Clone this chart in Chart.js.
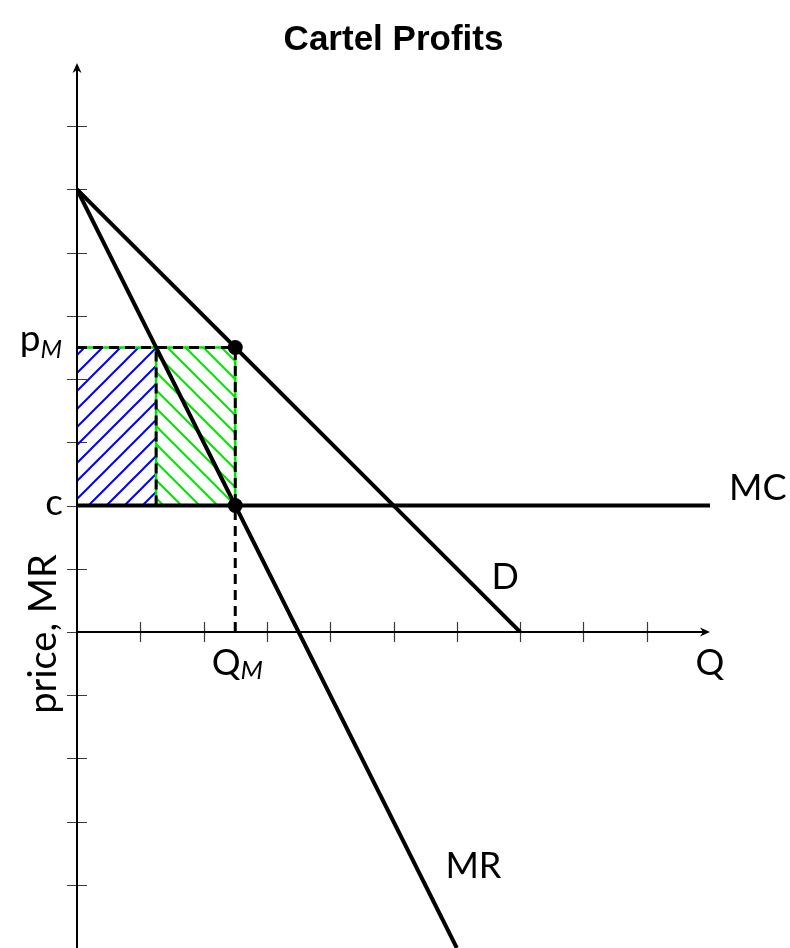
<!DOCTYPE html>
<html>
<head>
<meta charset="utf-8">
<script src="https://cdn.jsdelivr.net/npm/chart.js@4.4.0/dist/chart.umd.min.js"></script>
<style>
  body { margin: 0; background: #fff; }
  canvas { display: block; }
</style>
</head>
<body>
<canvas id="cartel-chart" width="790" height="948"></canvas>
<script>
// demand p = 7 - Q, marginal revenue MR = 7 - 2Q, marginal cost c = 2
const demandQ = [0, 7];
const demandP = [7, 0];
const mrQ = [0, 6];
const mrP = [7, -5];
const mcQ = [0, 10];
const mcP = [2, 2];
const qM = 2.5;
const pM = 4.5;
const cost = 2;
const qSplit = 1.25;   // MR crosses p_M here
const qTicks = [1, 2, 3, 4, 5, 6, 7, 8, 9];
const pTicks = [-4, -3, -2, -1, 0, 1, 2, 3, 4, 5, 6, 7, 8];
const qRange = [0, 10];
const pRange = [-5, 9];

const LABEL_FONT = "Lato, 'Open Sans', sans-serif";

function pts(xs, ys) {
  return xs.map((x, i) => ({ x: x, y: ys[i] }));
}

const canvas = document.getElementById('cartel-chart');
const mainCtx = canvas.getContext('2d');

function hatch(color, dir) {
  const s = 18;
  const tile = document.createElement('canvas');
  tile.width = s; tile.height = s;
  const g = tile.getContext('2d');
  g.strokeStyle = color;
  g.lineWidth = 2;
  g.beginPath();
  if (dir > 0) {
    g.moveTo(-2, s + 2); g.lineTo(s + 2, -2);
    g.moveTo(-2, 2); g.lineTo(2, -2);
    g.moveTo(s - 2, s + 2); g.lineTo(s + 2, s - 2);
  } else {
    g.moveTo(-2, -2); g.lineTo(s + 2, s + 2);
    g.moveTo(s - 2, -2); g.lineTo(s + 2, 2);
    g.moveTo(-2, s - 2); g.lineTo(2, s + 2);
  }
  g.stroke();
  return mainCtx.createPattern(tile, 'repeat');
}

function line(data, color, width, order, dash) {
  return {
    data: data,
    borderColor: color,
    borderWidth: width,
    borderDash: dash || [],
    pointRadius: 0,
    fill: false,
    order: order
  };
}

// axes, ticks, arrow heads and labels
const axesPlugin = {
  id: 'axes',
  beforeDatasetsDraw(chart) {
    const ctx = chart.ctx, x = chart.scales.x, y = chart.scales.y;
    const x0 = x.getPixelForValue(0), y0 = y.getPixelForValue(0);
    ctx.save();
    ctx.strokeStyle = '#3a3a3a';
    ctx.lineWidth = 1.2;
    ctx.beginPath();
    qTicks.forEach(q => {
      const px = Math.round(x.getPixelForValue(q)) + 0.5;
      ctx.moveTo(px, y0 - 10); ctx.lineTo(px, y0 + 10);
    });
    pTicks.forEach(p => {
      const py = Math.round(y.getPixelForValue(p)) + 0.5;
      ctx.moveTo(x0 - 10, py); ctx.lineTo(x0 + 10, py);
    });
    ctx.stroke();
    ctx.restore();
  },
  afterDatasetsDraw(chart) {
    const ctx = chart.ctx, x = chart.scales.x, y = chart.scales.y;
    const x0 = x.getPixelForValue(0), y0 = y.getPixelForValue(0);
    const xEnd = x.getPixelForValue(qRange[1]);
    const yTop = y.getPixelForValue(pRange[1]);
    const yBot = y.getPixelForValue(pRange[0]);
    ctx.save();
    ctx.strokeStyle = '#000';
    ctx.fillStyle = '#000';
    ctx.lineWidth = 2;
    ctx.beginPath();
    ctx.moveTo(x0, y0); ctx.lineTo(xEnd - 4, y0);
    ctx.moveTo(x0, yBot); ctx.lineTo(x0, yTop + 4);
    ctx.stroke();
    ctx.beginPath();
    ctx.moveTo(xEnd, y0);
    ctx.lineTo(xEnd - 10, y0 - 4.5);
    ctx.lineTo(xEnd - 7, y0);
    ctx.lineTo(xEnd - 10, y0 + 4.5);
    ctx.closePath();
    ctx.moveTo(x0, yTop);
    ctx.lineTo(x0 - 4.5, yTop + 10);
    ctx.lineTo(x0, yTop + 7);
    ctx.lineTo(x0 + 4.5, yTop + 10);
    ctx.closePath();
    ctx.fill();
    ctx.restore();
  },
  afterDraw(chart) {
    const ctx = chart.ctx, x = chart.scales.x, y = chart.scales.y;
    const x0 = x.getPixelForValue(0), y0 = y.getPixelForValue(0);
    ctx.save();
    ctx.fillStyle = '#000';
    ctx.textBaseline = 'alphabetic';

    function sub(main, s, px, py, align, size, subSize, drop) {
      ctx.font = size + 'px ' + LABEL_FONT;
      const w1 = ctx.measureText(main).width;
      ctx.font = 'italic ' + subSize + 'px ' + LABEL_FONT;
      const w2 = ctx.measureText(s).width;
      let left = px;
      if (align === 'right') left = px - w1 - w2;
      if (align === 'center') left = px - (w1 + w2) / 2;
      ctx.textAlign = 'left';
      ctx.font = size + 'px ' + LABEL_FONT;
      ctx.fillText(main, left, py);
      ctx.font = 'italic ' + subSize + 'px ' + LABEL_FONT;
      ctx.fillText(s, left + w1, py + drop);
    }

    sub('p', 'M', x0 - 15, y.getPixelForValue(pM) + 4, 'right', 37, 25, 7);
    ctx.font = '37px ' + LABEL_FONT;
    ctx.textAlign = 'right';
    ctx.fillText('c', x0 - 14, y.getPixelForValue(cost) + 9);
    sub('Q', 'M', x.getPixelForValue(qM) + 2, y0 + 43, 'center', 36, 26, 4);
    ctx.font = '36px ' + LABEL_FONT;
    ctx.textAlign = 'center';
    ctx.fillText('Q', x.getPixelForValue(qRange[1]), y0 + 43);

    ctx.textAlign = 'left';
    ctx.fillText('MC', x.getPixelForValue(qRange[1]) + 19, y.getPixelForValue(cost) - 6);
    ctx.fillText('D', x.getPixelForValue(6.55), y.getPixelForValue(0) - 43);
    ctx.fillText('MR', x.getPixelForValue(5.82), y.getPixelForValue(-3.9));

    // vertical axis title
    ctx.font = '38px ' + LABEL_FONT;
    ctx.translate(x0 - 21, y0 + 2);
    ctx.rotate(-Math.PI / 2);
    ctx.textAlign = 'center';
    ctx.fillText('price, MR', 0, 0);
    ctx.restore();
  }
};

const blueHatch = hatch('#0000ff', 1);
const greenHatch = hatch('#00e600', -1);

new Chart(canvas, {
  type: 'line',
  data: {
    datasets: [
      // equilibrium points
      {
        data: pts([qM, qM], [pM, cost]),
        showLine: false,
        pointRadius: 7.5,
        pointBackgroundColor: '#000',
        pointBorderWidth: 0,
        order: 1
      },
      line(pts(demandQ, demandP), '#000', 4, 2),
      line(pts(mrQ, mrP), '#000', 4, 2),
      line(pts(mcQ, mcP), '#000', 4, 2),
      line(pts([0, qM], [pM, pM]), '#000', 3, 4, [10, 6]),
      line(pts([qM, qM], [0, pM]), '#000', 3, 4, [10, 6]),
      line(pts([qSplit, qSplit], [cost, pM]), '#000', 3, 4, [10, 6]),
      line(pts([0, qM, qM], [pM, pM, cost]), '#00e600', 2.5, 6),
      line(pts([qSplit, qSplit], [cost, pM]), '#00e600', 2.5, 6),
      // profit areas
      {
        data: pts([0, qSplit], [pM, pM]),
        borderWidth: 0,
        pointRadius: 0,
        backgroundColor: blueHatch,
        fill: { value: cost },
        order: 10
      },
      {
        data: pts([qSplit, qM], [pM, pM]),
        borderWidth: 0,
        pointRadius: 0,
        backgroundColor: greenHatch,
        fill: { value: cost },
        order: 10
      }
    ]
  },
  options: {
    responsive: false,
    animation: false,
    devicePixelRatio: 1,
    layout: { autoPadding: false, padding: { left: 77, right: 80, top: 6, bottom: 0 } },
    scales: {
      x: { type: 'linear', min: qRange[0], max: qRange[1], display: false },
      y: { type: 'linear', min: pRange[0], max: pRange[1], display: false }
    },
    plugins: {
      legend: { display: false },
      tooltip: { enabled: false },
      title: {
        display: true,
        text: 'Cartel Profits',
        color: '#000',
        font: { family: "'Liberation Sans', Arial, sans-serif", size: 35, weight: 'bold' },
        padding: { top: 13, bottom: 2 }
      }
    }
  },
  plugins: [axesPlugin]
});
</script>
</body>
</html>
